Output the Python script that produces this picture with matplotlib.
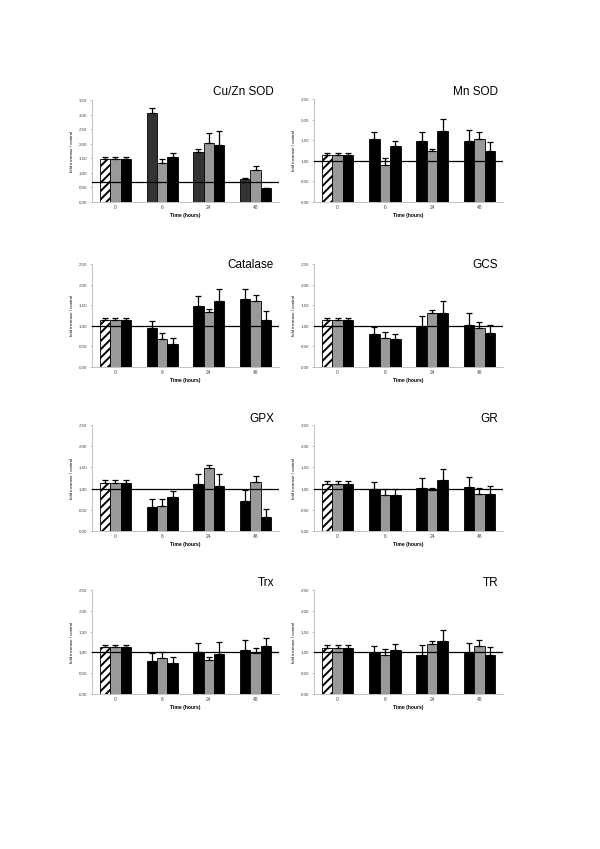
import numpy as np
import matplotlib
matplotlib.use("Agg")
import matplotlib.pyplot as plt

plt.rcParams["font.family"] = ["Liberation Sans", "DejaVu Sans"]
plt.rcParams["hatch.linewidth"] = 1.4

# categories
times = ["0", "6", "24", "48"]

# values per time point: [bar1, bar2, bar3]
cuzn_sod = [[1.48, 1.48, 1.48], [3.07, 1.33, 1.53], [1.73, 2.02, 1.96], [0.78, 1.10, 0.48]]
cuzn_sod_err = [[0.06, 0.06, 0.06], [0.15, 0.14, 0.15], [0.08, 0.34, 0.48], [0.03, 0.12, 0.01]]
mn_sod = [[1.14, 1.14, 1.14], [1.53, 0.91, 1.37], [1.47, 1.23, 1.73], [1.49, 1.53, 1.24]]
mn_sod_err = [[0.06, 0.06, 0.06], [0.18, 0.15, 0.12], [0.24, 0.06, 0.29], [0.25, 0.16, 0.21]]
catalase = [[1.14, 1.14, 1.14], [0.94, 0.68, 0.57], [1.48, 1.34, 1.61], [1.64, 1.60, 1.14]]
catalase_err = [[0.05, 0.05, 0.05], [0.18, 0.15, 0.14], [0.25, 0.06, 0.29], [0.26, 0.15, 0.21]]
gcs = [[1.13, 1.13, 1.13], [0.81, 0.70, 0.68], [0.98, 1.31, 1.32], [1.03, 0.95, 0.83]]
gcs_err = [[0.06, 0.06, 0.06], [0.17, 0.15, 0.13], [0.25, 0.07, 0.28], [0.28, 0.15, 0.19]]
gpx = [[1.13, 1.13, 1.13], [0.57, 0.60, 0.81], [1.10, 1.48, 1.07], [0.71, 1.15, 0.33]]
gpx_err = [[0.07, 0.07, 0.07], [0.18, 0.15, 0.13], [0.24, 0.08, 0.27], [0.26, 0.15, 0.19]]
gr = [[1.12, 1.12, 1.12], [0.98, 0.85, 0.85], [1.02, 0.96, 1.20], [1.03, 0.87, 0.87]]
gr_err = [[0.06, 0.06, 0.06], [0.18, 0.15, 0.15], [0.24, 0.05, 0.27], [0.25, 0.15, 0.19]]
trx = [[1.12, 1.12, 1.12], [0.79, 0.87, 0.75], [1.00, 0.82, 0.96], [1.05, 0.98, 1.16]]
trx_err = [[0.05, 0.05, 0.05], [0.19, 0.15, 0.13], [0.23, 0.08, 0.28], [0.26, 0.13, 0.19]]
tr = [[1.11, 1.11, 1.11], [0.98, 0.94, 1.06], [0.94, 1.20, 1.27], [0.98, 1.15, 0.94]]
tr_err = [[0.06, 0.06, 0.06], [0.17, 0.13, 0.13], [0.23, 0.07, 0.27], [0.24, 0.15, 0.20]]

names = ["Cu/Zn SOD", "Mn SOD", "Catalase", "GCS", "GPX", "GR", "Trx", "TR"]
panels = [(cuzn_sod, cuzn_sod_err), (mn_sod, mn_sod_err), (catalase, catalase_err), (gcs, gcs_err),
          (gpx, gpx_err), (gr, gr_err), (trx, trx_err), (tr, tr_err)]
ymaxes = [3.5, 2.5, 2.5, 2.5, 2.5, 2.5, 2.5, 2.5]
ref_lines = [0.68, 1.0, 1.0, 1.0, 1.0, 1.0, 1.0, 1.0]

W, H = 600, 849
fig = plt.figure(figsize=(W / 100, H / 100), dpi=100)

# axes boxes in pixels (left, right, top, bottom)
cols = [(92, 279), (314, 503)]
rows = [(99, 202), (264, 367), (425, 531), (590, 694)]
title_y = [92, 265, 419, 583]

for i, name in enumerate(names):
    r, c = divmod(i, 2)
    x0, x1 = cols[c]
    y0, y1 = rows[r]
    if i == 0:
        y0 = 100
    ax = fig.add_axes([x0 / W, 1 - y1 / H, (x1 - x0) / W, (y1 - y0) / H])
    vals, errs = panels[i]
    vals = np.array(vals)
    errs = np.array(errs)
    x = np.arange(len(times))
    bw = 0.222
    # Cu/Zn SOD panel uses a dark grey first bar
    if i == 0:
        first = "#333333"
    else:
        first = "black"
    colors = [first, "#999999", "black"]
    for k in range(3):
        xs = x + (k - 1) * bw
        for j in range(len(times)):
            if j == 0 and k == 0:
                ax.bar(xs[j], vals[j, k], bw, color="white", edgecolor="black",
                       hatch="////", lw=0.6, zorder=2)
            else:
                ax.bar(xs[j], vals[j, k], bw, color=colors[k], edgecolor="black",
                       lw=0.6, zorder=2)
        ax.errorbar(xs, vals[:, k], yerr=[np.zeros(len(times)), errs[:, k]],
                    fmt="none", ecolor="black", elinewidth=0.9, capsize=2.5,
                    capthick=0.9, zorder=3)
    ax.axhline(ref_lines[i], color="black", lw=0.9, zorder=4)
    ax.set_xlim(-0.5, len(times) - 0.5)
    ax.set_ylim(0, ymaxes[i])
    yt = np.arange(0, ymaxes[i] + 0.01, 0.5)
    ax.set_yticks(yt)
    ax.set_yticklabels([f"{v:.2f}".replace(".", ",") for v in yt], fontsize=3.2, color="#444444")
    ax.set_xticks(x)
    ax.set_xticklabels(times, fontsize=3.5, color="#444444")
    ax.tick_params(axis="both", length=1.5, width=0.4, color="#999999", pad=2)
    ax.tick_params(axis="x", length=0)
    for s in ["top", "right"]:
        ax.spines[s].set_visible(False)
    for s in ["left", "bottom"]:
        ax.spines[s].set_color("#aaaaaa")
        ax.spines[s].set_linewidth(0.5)
    ax.set_xlabel("Time (hours)", fontsize=3.6, fontweight="bold", labelpad=2)
    ax.set_ylabel("fold increase / control", fontsize=3.2, labelpad=3)
    fig.text((x1 - 5) / W, 1 - title_y[r] / H, name, fontsize=8.5, ha="right", va="center")

fig.savefig("out.png", dpi=100)
